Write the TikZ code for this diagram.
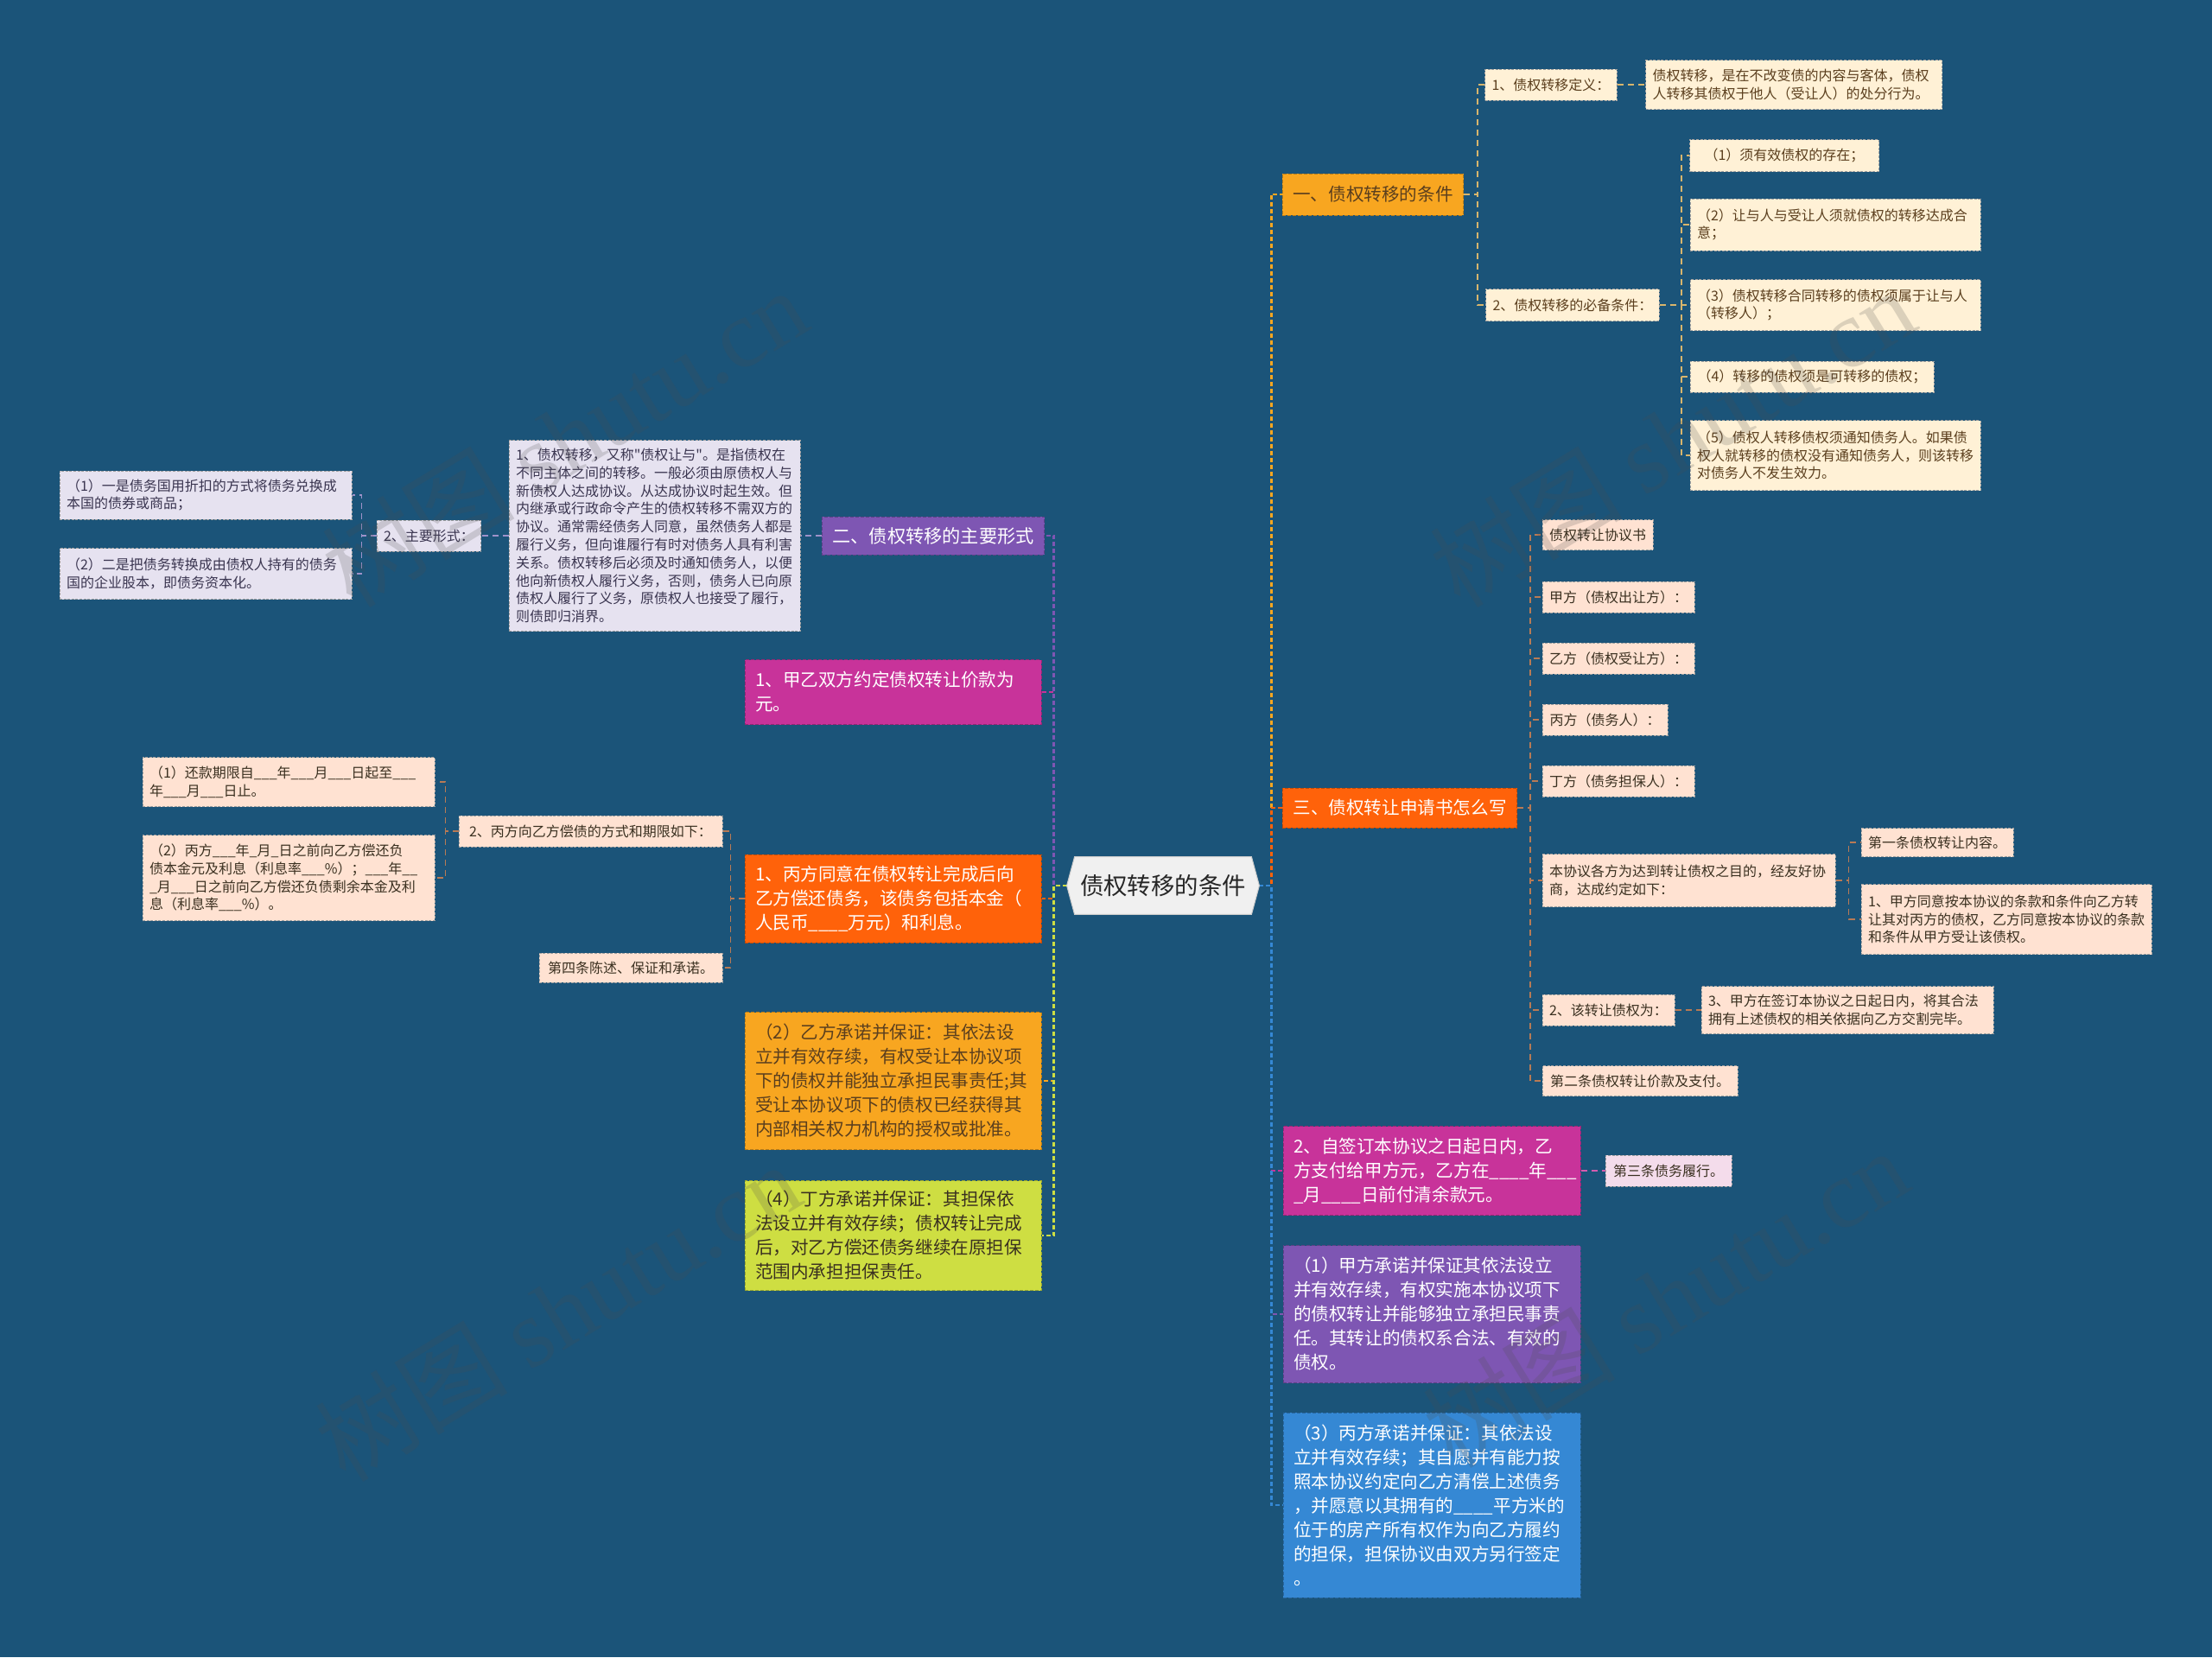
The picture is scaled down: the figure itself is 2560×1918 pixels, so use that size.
\documentclass[tikz,border=0pt]{standalone}
\usepackage{fontspec}
\setmainfont{Noto Sans CJK SC}[Ligatures=TeXOff]
\newfontfamily\wmserif{Liberation Serif}
\pgfdeclarelayer{bg}
\pgfdeclarelayer{edges}
\pgfdeclarelayer{top}
\pgfsetlayers{bg,edges,main,top}
\definecolor{bgblue}{HTML}{1B5479}
\definecolor{camber}{HTML}{F8A620}
\definecolor{corange}{HTML}{FF620A}
\definecolor{cmag}{HTML}{C8339A}
\definecolor{cpurple}{HTML}{7E56B3}
\definecolor{cblue}{HTML}{3588D4}
\definecolor{cygreen}{HTML}{CEDE42}
\definecolor{ccream}{HTML}{FFF1D6}
\definecolor{cpeach}{HTML}{FFE2D2}
\definecolor{clav}{HTML}{E6E2F0}
\definecolor{cpink}{HTML}{F4DCEB}
\definecolor{chex}{HTML}{F0F0F0}
\definecolor{lgold}{HTML}{D8B56C}
\definecolor{lbrown}{HTML}{B87A55}
\definecolor{lpurple}{HTML}{9E92C9}
\definecolor{tbrown}{HTML}{5B3F1E}
\definecolor{tdark}{HTML}{3A3020}
\definecolor{tlav}{HTML}{3A3550}
\begin{document}
\begin{tikzpicture}[x=0.5pt,y=-0.5pt,
  lv/.style={draw=#1!75!black, fill=#1, dash pattern=on 2pt off 1pt, line width=0.5pt,
    inner xsep=6pt, inner ysep=0pt, align=left, font=\fontsize{10.3}{14}\selectfont},
  sm/.style={draw=gray!75, fill=#1, dash pattern=on 1.5pt off 0.8pt, line width=0.5pt,
    inner xsep=4pt, inner ysep=0pt, align=left, font=\fontsize{8}{10.4}\selectfont},
  trunk/.style={line width=1.4pt, dash pattern=on 2.5pt off 1.5pt},
  sub/.style={line width=0.9pt, dash pattern=on 3.5pt off 2.5pt},
  wm/.style={text=gray!60!black, opacity=0.2, font=\fontsize{56}{60}\selectfont}]
\useasboundingbox (0,0) rectangle (2560,1918);
\begin{pgfonlayer}{bg}
\fill[bgblue] (0,0) rectangle (2560,1918);
\end{pgfonlayer}

% centre
\node[minimum width=111pt, minimum height=33pt, inner sep=0pt, text=black!85,
  font=\fontsize{13.7}{16}\selectfont] (c) at (1346,1025) {债权转移的条件};

% ---------- right level 1
\node[lv=camber, text=tbrown, minimum width=104.5pt, minimum height=24pt] (n1) at (1589,225) {一、债权转移的条件};
\node[lv=corange, text=white, minimum width=135pt, minimum height=23pt] (n3) at (1620,935) {三、债权转让申请书怎么写};
\node[lv=cmag, text=white, text width=160pt, minimum height=51.5pt] (n5) at (1657,1355) {2、自签订本协议之日起日内，乙\\方支付给甲方元，乙方在\_\_\_\_年\_\_\_\\\_月\_\_\_\_日前付清余款元。};
\node[lv=cpurple, text=white, text width=160pt, minimum height=79.5pt] (n6) at (1657,1521) {（1）甲方承诺并保证其依法设立\\并有效存续，有权实施本协议项下\\的债权转让并能够独立承担民事责\\任。其转让的债权系合法、有效的\\债权。};
\node[lv=cblue, text=white, text width=160pt, minimum height=107pt] (n7) at (1657,1742) {（3）丙方承诺并保证：其依法设\\立并有效存续；其自愿并有能力按\\照本协议约定向乙方清偿上述债务\\，并愿意以其拥有的\_\_\_\_平方米的\\位于的房产所有权作为向乙方履约\\的担保，担保协议由双方另行签定\\。};

% ---------- right level 2 (branch 一)
\node[sm=ccream, text=tbrown, minimum width=74pt, minimum height=18pt] (n1a) at (1795,98) {1、债权转移定义：};
\node[sm=ccream, text=tbrown, text width=163.5pt, minimum height=28.5pt] (n1a1) at (2076,98) {债权转移，是在不改变债的内容与客体，债权\\人转移其债权于他人（受让人）的处分行为。};
\node[sm=ccream, text=tbrown, minimum width=98.5pt, minimum height=18.5pt] (n1b) at (1820,353) {2、债权转移的必备条件：};
\node[sm=ccream, text=tbrown, minimum width=109.5pt, minimum height=18.5pt] (n1b1) at (2065,180) {（1）须有效债权的存在；};
\node[sm=ccream, text=tbrown, text width=160pt, minimum height=30pt] (n1b2) at (2124,260) {（2）让与人与受让人须就债权的转移达成合\\意；};
\node[sm=ccream, text=tbrown, text width=160pt, minimum height=29.5pt] (n1b3) at (2124,353) {（3）债权转移合同转移的债权须属于让与人\\（转移人）；};
\node[sm=ccream, text=tbrown, minimum width=141pt, minimum height=18pt] (n1b4) at (2097,436) {（4）转移的债权须是可转移的债权；};
\node[sm=ccream, text=tbrown, text width=160pt, minimum height=40.5pt] (n1b5) at (2124,527) {（5）债权人转移债权须通知债务人。如果债\\权人就转移的债权没有通知债务人，则该转移\\对债务人不发生效力。};

% ---------- right level 2 (branch 三)
\node[sm=cpeach, text=tdark, minimum width=64pt, minimum height=17.5pt] (n3a) at (1849,619) {债权转让协议书};
\node[sm=cpeach, text=tdark, minimum width=88pt, minimum height=18pt] (n3b) at (1873,691) {甲方（债权出让方）：};
\node[sm=cpeach, text=tdark, minimum width=88pt, minimum height=18pt] (n3c) at (1873,762) {乙方（债权受让方）：};
\node[sm=cpeach, text=tdark, minimum width=72.5pt, minimum height=18pt] (n3d) at (1857.5,833) {丙方（债务人）：};
\node[sm=cpeach, text=tdark, minimum width=88pt, minimum height=18pt] (n3e) at (1873,904) {丁方（债务担保人）：};
\node[sm=cpeach, text=tdark, text width=161.5pt, minimum height=30.5pt] (n3f) at (1954.5,1019) {本协议各方为达到转让债权之目的，经友好协\\商，达成约定如下：};
\node[sm=cpeach, text=tdark, minimum width=76.5pt, minimum height=18pt] (n3g) at (1861.5,1169) {2、该转让债权为：};
\node[sm=cpeach, text=tdark, minimum width=113pt, minimum height=17.5pt] (n3h) at (1898,1251) {第二条债权转让价款及支付。};
\node[sm=cpeach, text=tdark, minimum width=88pt, minimum height=16.5pt] (n3f1) at (2242,975) {第一条债权转让内容。};
\node[sm=cpeach, text=tdark, text width=160pt, minimum height=40.5pt] (n3f2) at (2322,1064) {1、甲方同意按本协议的条款和条件向乙方转\\让其对丙方的债权，乙方同意按本协议的条款\\和条件从甲方受让该债权。};
\node[sm=cpeach, text=tdark, text width=161pt, minimum height=27.5pt] (n3g1) at (2138,1169) {3、甲方在签订本协议之日起日内，将其合法\\拥有上述债权的相关依据向乙方交割完毕。};
\node[sm=cpink, text=tdark, minimum width=73pt, minimum height=18pt] (n5a) at (1931,1355) {第三条债务履行。};

% ---------- left level 1
\node[lv=cpurple, text=white, minimum width=125pt, minimum height=22pt, font=\fontsize{10.6}{14}\selectfont] (n2) at (1080,620) {二、债权转移的主要形式};
\node[lv=cmag, text=white, text width=159.5pt, minimum height=37.5pt] (nb) at (1033.5,801) {1、甲乙双方约定债权转让价款为\\元。};
\node[lv=corange, text=white, text width=159.5pt, minimum height=51pt] (nc) at (1033.5,1040) {1、丙方同意在债权转让完成后向\\乙方偿还债务，该债务包括本金（\\人民币\_\_\_\_万元）和利息。};
\node[lv=camber, text=tbrown, text width=159.5pt, minimum height=79.5pt] (nd) at (1033.5,1251) {（2）乙方承诺并保证：其依法设\\立并有效存续，有权受让本协议项\\下的债权并能独立承担民事责任;其\\受让本协议项下的债权已经获得其\\内部相关权力机构的授权或批准。};
\node[lv=cygreen, text=tdark, text width=159.5pt, minimum height=63.5pt] (ne) at (1033.5,1430) {（4）丁方承诺并保证：其担保依\\法设立并有效存续；债权转让完成\\后，对乙方偿还债务继续在原担保\\范围内承担担保责任。};

% ---------- left level 2
\node[sm=clav, text=tlav, text width=160.5pt, minimum height=110.5pt] (n2a) at (757.5,620) {1、债权转移，又称"债权让与"。是指债权在\\不同主体之间的转移。一般必须由原债权人与\\新债权人达成协议。从达成协议时起生效。但\\内继承或行政命令产生的债权转移不需双方的\\协议。通常需经债务人同意，虽然债务人都是\\履行义务，但向谁履行有时对债务人具有利害\\关系。债权转移后必须及时通知债务人，以便\\他向新债权人履行义务，否则，债务人已向原\\债权人履行了义务，原债权人也接受了履行，\\则债即归消界。};
\node[sm=clav, text=tlav, minimum width=58.5pt, minimum height=18pt] (n2b) at (496.5,620) {2、主要形式：};
\node[sm=clav, text=tlav, text width=161pt, minimum height=28pt] (n2b1) at (238,573) {（1）一是债务国用折扣的方式将债务兑换成\\本国的债券或商品；};
\node[sm=clav, text=tlav, text width=161pt, minimum height=29.5pt] (n2b2) at (238,664) {（2）二是把债务转换成由债权人持有的债务\\国的企业股本，即债务资本化。};

\node[sm=cpeach, text=tdark, minimum width=152.5pt, minimum height=18pt] (nc1) at (683.5,962) {2、丙方向乙方偿债的方式和期限如下：};
\node[sm=cpeach, text=tdark, minimum width=106pt, minimum height=17pt] (nc2) at (730,1120) {第四条陈述、保证和承诺。};
\node[sm=cpeach, text=tdark, text width=161pt, minimum height=28.5pt] (nc1a) at (334,905) {（1）还款期限自\_\_\_年\_\_\_月\_\_\_日起至\_\_\_\\年\_\_\_月\_\_\_日止。};
\node[sm=cpeach, text=tdark, text width=161pt, minimum height=49.5pt] (nc1b) at (334,1016) {（2）丙方\_\_\_年\_月\_日之前向乙方偿还负\\债本金元及利息（利息率\_\_\_\%）；\_\_\_年\_\_\\\_月\_\_\_日之前向乙方偿还负债剩余本金及利\\息（利息率\_\_\_\%）。};

% ---------- connectors
\begin{pgfonlayer}{edges}
\draw[trunk, camber] (c.east) -- ++(14,0) |- (n1.west);
\draw[trunk, corange] (c.east) -- ++(14,0) |- (n3.west);
\draw[trunk, cmag] (c.east) -- ++(14,0) |- (n5.west);
\draw[trunk, cpurple] (c.east) -- ++(14,0) |- (n6.west);
\draw[trunk, cblue] (c.east) -- ++(14,0) |- (n7.west);
\draw[trunk, camber] (c.west) -- ++(-15,0) |- (nd.east);
\draw[trunk, corange] (c.west) -- ++(-15,0) |- (nc.east);
\draw[trunk, cmag] (c.west) -- ++(-15,0) |- (nb.east);
\draw[trunk, cpurple] (c.west) -- ++(-15,0) |- (n2.east);
\draw[trunk, cygreen] (c.west) -- ++(-15,0) |- (ne.east);

\foreach \t in {n1a,n1b} \draw[sub, lgold] (n1.east) -- ++(16,0) |- (\t.west);
\draw[sub, lgold] (n1a.east) -- (n1a1.west);
\foreach \t in {n1b1,n1b2,n1b3,n1b4,n1b5} \draw[sub, lgold] (n1b.east) -- ++(25,0) |- (\t.west);
\foreach \t in {n3a,n3b,n3c,n3d,n3e,n3f,n3g,n3h} \draw[sub, lbrown] (n3.east) -- ++(15,0) |- (\t.west);
\foreach \t in {n3f1,n3f2} \draw[sub, lbrown] (n3f.east) -- ++(15,0) |- (\t.west);
\draw[sub, lbrown] (n3g.east) -- (n3g1.west);
\draw[sub, cmag!80!white] (n5.east) -- (n5a.west);
\draw[sub, lpurple] (n2.west) -- (n2a.east);
\draw[sub, lpurple] (n2a.west) -- (n2b.east);
\foreach \t in {n2b1,n2b2} \draw[sub, lpurple] (n2b.west) -- ++(-17,0) |- (\t.east);
\foreach \t in {nc1,nc2} \draw[sub, lbrown] (nc.west) -- ++(-16,0) |- (\t.east);
\foreach \t in {nc1a,nc1b} \draw[sub, lbrown] (nc1.west) -- ++(-15,0) |- (\t.east);

\path[fill=chex, draw=gray!40, line width=0.5pt] (c.west) -- ([xshift=4.5pt]c.north west) -- ([xshift=-4.5pt]c.north east) -- (c.east) -- ([xshift=-4.5pt]c.south east) -- ([xshift=4.5pt]c.south west) -- cycle;
\end{pgfonlayer}

% ---------- watermarks
\begin{pgfonlayer}{top}
\node[wm, rotate=31.4] (wm1) at (653,506) {树图 {\wmserif shutu.cn}};
\node[wm, rotate=31.4] (wm2) at (1935,506) {树图 {\wmserif shutu.cn}};
\node[wm, rotate=31.4] (wm3) at (645,1518) {树图 {\wmserif shutu.cn}};
\node[wm, rotate=31.4] (wm4) at (1927,1502) {树图 {\wmserif shutu.cn}};
\end{pgfonlayer}
\end{tikzpicture}
\end{document}
